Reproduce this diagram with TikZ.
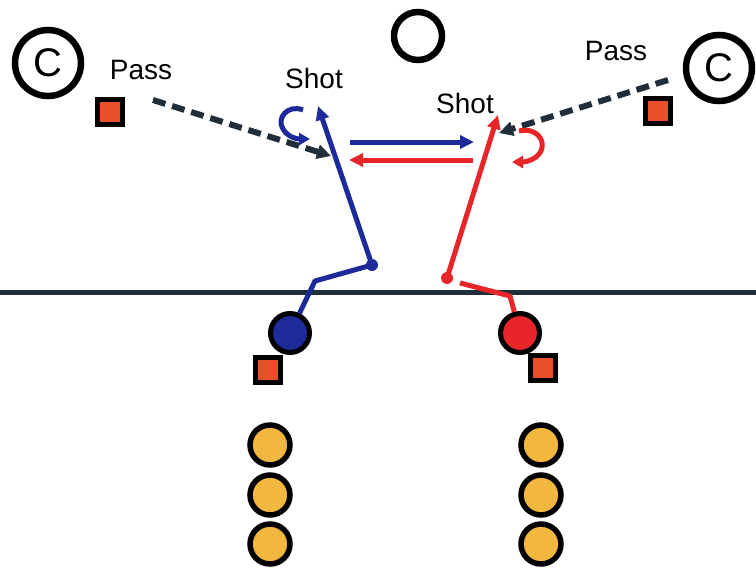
\documentclass[tikz,border=0pt]{standalone}
\usepackage{fontspec}
\setmainfont{Liberation Sans}
\usetikzlibrary{arrows.meta}
\definecolor{pblue}{HTML}{1C2A9A}
\definecolor{pred}{HTML}{E8262A}
\definecolor{psq}{HTML}{E8502A}
\definecolor{pyel}{HTML}{F2B73E}
\definecolor{pdark}{HTML}{1F2E3A}
\begin{document}
\begin{tikzpicture}[x=1pt,y=-1pt,
  ring/.style={circle, draw=black, line width=6.5pt, minimum size=#1, inner sep=0pt},
  player/.style={circle, draw=black, line width=5pt, fill=#1, minimum size=39pt, inner sep=0pt},
  waiting/.style={circle, draw=black, line width=5.5pt, fill=pyel, minimum size=40pt, inner sep=0pt},
  cone/.style={rectangle, draw=black, line width=5pt, fill=psq, minimum size=25pt, inner sep=0pt},
  lbl/.style={font=\fontsize{28}{30}\selectfont, inner sep=0pt, text=black},
  cletter/.style={font=\fontsize{40}{40}\selectfont},
  dot/.style={circle, fill=#1, minimum size=12pt, inner sep=0pt},
  tip/.style={-{Triangle[length=14pt,width=13pt]}},
  run/.style={draw=#1, line width=5pt, line join=round},
  pass/.style={draw=pdark, line width=6pt, dash pattern=on 13pt off 7pt, -{Triangle[length=14pt,width=14pt]}},
  curl/.style={draw=#1, line width=5pt, -{Triangle[length=11pt,width=12pt]}}
]
\useasboundingbox (0,0) rectangle (756,573);

% field line
\coordinate (fl) at (0,292);
\coordinate (fr) at (756,292);
\draw[pdark, line width=5pt] (fl) -- (fr);

% coaches and goal
\node[ring=66pt, cletter] (cl) at (48,63) {C};
\node[ring=66pt, cletter] (cr) at (719,68) {C};
\node[ring=48pt] (goal) at (418,36) {};

% labels
\node[lbl] (passl) at (141,70) {Pass};
\node[lbl] (shotl) at (314,78) {Shot};
\node[lbl] (shotr) at (465,103) {Shot};
\node[lbl] (passr) at (616,51) {Pass};

% cones
\node[cone] (sql) at (110,112) {};
\node[cone] (sqr) at (658,111) {};
\node[cone] (sqbl) at (268,370) {};
\node[cone] (sqrr) at (543,368) {};

% players
\node[player=pblue] (bc) at (290,333) {};
\node[player=pred] (rc) at (520,333) {};

% waiting players
\node[waiting] (yl1) at (270,445) {};
\node[waiting] (yl2) at (270,495) {};
\node[waiting] (yl3) at (270,544) {};
\node[waiting] (yr1) at (541,445) {};
\node[waiting] (yr2) at (541,495) {};
\node[waiting] (yr3) at (541,544) {};

% blue run and shot
\coordinate (b1) at (315,281);
\node[dot=pblue] (bd) at (372,265) {};
\coordinate (bt) at (318,106);
\draw[run=pblue] (bc) -- (b1) -- (bd.center);
\draw[run=pblue, tip] (bd.center) -- (bt);

% red run and shot
\node[dot=pred] (rd) at (447,278) {};
\coordinate (r1) at (510,296);
\coordinate (r2) at (460,283);
\coordinate (rt) at (498,115);
\draw[run=pred] (rc) -- (r1) -- (r2);
\draw[run=pred, tip] (rd.center) -- (rt);

% passes
\coordinate (lp) at (153,100);
\coordinate (lpt) at (331,156);
\draw[pass] (lp) -- (lpt);
\coordinate (rp) at (668,80);
\coordinate (rpt) at (499,133);
\draw[pass] (rp) -- (rpt);

% exchange arrows
\coordinate (ba1) at (350,142);
\coordinate (ba2) at (474,142);
\draw[run=pblue, tip] (ba1) -- (ba2);
\coordinate (ra1) at (473,160);
\coordinate (ra2) at (349,160);
\draw[run=pred, tip] (ra1) -- (ra2);

% curls
\coordinate (bcs) at (303,110);
\coordinate (bce) at (310,139);
\draw[curl=pblue] (bcs) .. controls (288,104) and (276,118) .. (283,129) .. controls (288,137) and (296,139) .. (bce);
\coordinate (rcs) at (519,131);
\coordinate (rce) at (512,162);
\draw[curl=pred] (rcs) .. controls (536,127) and (546,140) .. (541,151) .. controls (537,159) and (527,162) .. (rce);
\end{tikzpicture}
\end{document}
